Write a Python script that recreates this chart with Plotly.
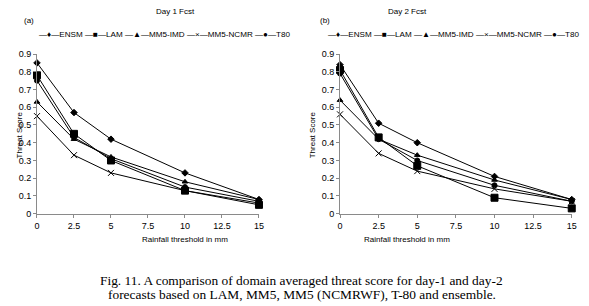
import plotly.graph_objects as go

thresholds = [0, 2.5, 5, 10, 15]
series_names = ["ENSM", "LAM", "MM5-IMD", "MM5-NCMR", "T80"]
day1_ensm = [0.85, 0.57, 0.42, 0.23, 0.08]
day1_lam = [0.78, 0.45, 0.30, 0.13, 0.05]
day1_mm5imd = [0.63, 0.42, 0.32, 0.18, 0.08]
day1_mm5ncmr = [0.55, 0.33, 0.23, 0.13, 0.06]
day1_t80 = [0.75, 0.43, 0.31, 0.15, 0.07]
day2_ensm = [0.84, 0.51, 0.40, 0.21, 0.08]
day2_lam = [0.81, 0.43, 0.27, 0.09, 0.03]
day2_mm5imd = [0.64, 0.42, 0.33, 0.19, 0.08]
day2_mm5ncmr = [0.56, 0.34, 0.24, 0.14, 0.07]
day2_t80 = [0.79, 0.42, 0.30, 0.16, 0.07]
x_ticks = [0, 2.5, 5, 7.5, 10, 12.5, 15]
y_ticks = [0, 0.1, 0.2, 0.3, 0.4, 0.5, 0.6, 0.7, 0.8, 0.9]

symbols = ["diamond", "square", "triangle-up", "x-thin", "circle"]
sizes = [5, 7, 5, 6, 5]
key_glyphs = ["\u2666", "\u25A0", "\u25B2", "\u00D7", "\u25CF"]

SANS = "Liberation Sans, Arial, sans-serif"
SERIF = "Liberation Serif, Times New Roman, serif"

fig = go.Figure()
panels = [
    ([day1_ensm, day1_lam, day1_mm5imd, day1_mm5ncmr, day1_t80], "x", "y"),
    ([day2_ensm, day2_lam, day2_mm5imd, day2_mm5ncmr, day2_t80], "x2", "y2"),
]
for data, xa, ya in panels:
    for name, vals, sym, sz in zip(series_names, data, symbols, sizes):
        fig.add_trace(go.Scatter(
            x=thresholds, y=vals, name=name, mode="lines+markers",
            xaxis=xa, yaxis=ya, showlegend=False,
            line=dict(color="black", width=1),
            marker=dict(symbol=sym, size=sz, color="black",
                        line=dict(color="black", width=1)),
            cliponaxis=False,
        ))

axis_common = dict(showgrid=False, zeroline=False, showline=True,
                   linecolor="#8a8a8a", linewidth=1, ticks="outside",
                   ticklen=3, tickcolor="#8a8a8a",
                   tickfont=dict(family=SANS, size=9, color="black"))

ydom = [0.3016, 0.8235]
fig.update_layout(
    width=589, height=306,
    margin=dict(l=0, r=0, t=0, b=0, autoexpand=False),
    paper_bgcolor="white", plot_bgcolor="white",
    showlegend=False,
    xaxis=dict(domain=[0.0628, 0.4397], range=[0, 15], tickvals=x_ticks,
               ticktext=[f"{v:g}" for v in x_ticks], anchor="y", **axis_common),
    yaxis=dict(domain=ydom, range=[0, 0.9], tickvals=y_ticks,
               ticktext=[f"{v:g}" for v in y_ticks], anchor="x", **axis_common),
    xaxis2=dict(domain=[0.5773, 0.9707], range=[0, 15], tickvals=x_ticks,
                ticktext=[f"{v:g}" for v in x_ticks], anchor="y2", **axis_common),
    yaxis2=dict(domain=ydom, range=[0, 0.9], tickvals=y_ticks,
                ticktext=[f"{v:g}" for v in y_ticks], anchor="x2", **axis_common),
)

legend_text = " ".join(f"\u2014{g}\u2014{n}" for g, n in zip(key_glyphs, series_names))

f_sans = dict(family=SANS, size=8, color="black")
f_leg = dict(family=SANS, size=8.1, color="black")
f_cap = dict(family=SERIF, size=13.4, color="black")
ann = [
    dict(text="Day 1 Fcst", x=0.2623, y=0.962, font=f_sans),
    dict(text="Day 2 Fcst", x=0.729, y=0.962, font=f_sans),
    dict(text="(a)", x=0.0374, y=0.932, font=f_sans),
    dict(text="(b)", x=0.551, y=0.934, font=f_sans),
    dict(text=legend_text, x=0.0628, y=0.886, xanchor="left", font=f_leg),
    dict(text=legend_text, x=0.553, y=0.886, xanchor="left", font=f_leg),
    dict(text="Threat Score", x=0.022, y=0.559, textangle=-90, font=f_sans),
    dict(text="Threat Score", x=0.532, y=0.559, textangle=-90, font=f_sans),
    dict(text="Rainfall threshold in mm", x=0.2377, y=0.218, font=f_sans),
    dict(text="Rainfall threshold in mm", x=0.768, y=0.218, font=f_sans),
    dict(text="Fig. 11. A comparison of domain averaged threat score for day-1 and day-2",
         x=0.5125, y=0.0846, font=f_cap),
    dict(text="forecasts based on LAM, MM5, MM5 (NCMRWF), T-80 and ensemble.",
         x=0.5125, y=0.036, font=f_cap),
]
for a in ann:
    a.setdefault("xref", "paper")
    a.setdefault("yref", "paper")
    a.setdefault("showarrow", False)
    a.setdefault("yanchor", "middle")
fig.update_layout(annotations=ann)
fig.write_html("out.html", config={"displayModeBar": False},
               post_script="document.body.style.margin='0px';document.body.style.padding='0px';")
